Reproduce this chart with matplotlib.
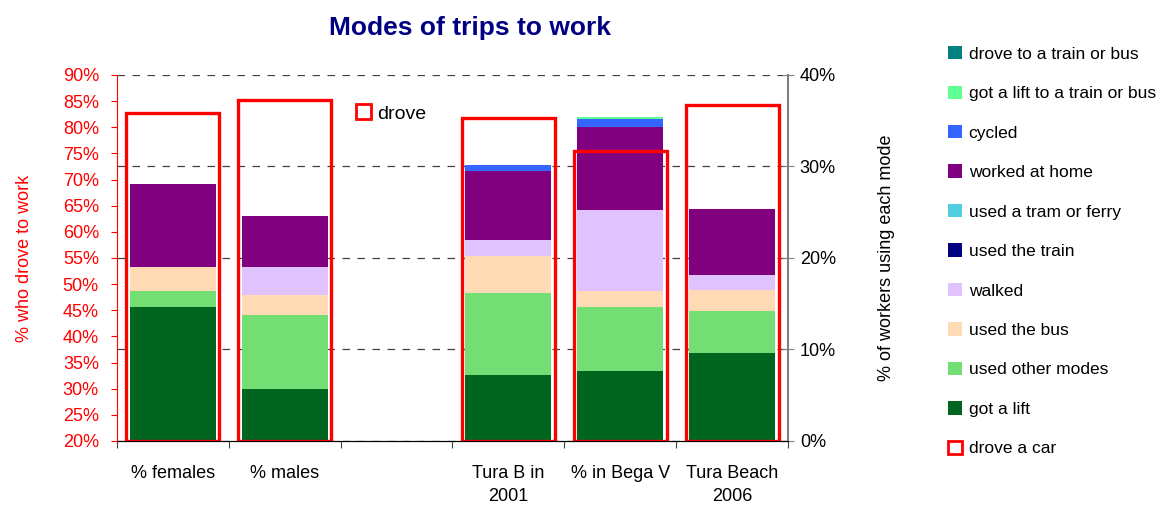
import numpy as np
import matplotlib
matplotlib.use("Agg")
import matplotlib.pyplot as plt
from matplotlib.patches import Patch

plt.rcParams["font.family"] = ["Liberation Sans", "DejaVu Sans"]

places = ["% females", "% males", "", "Tura B in\n2001", "% in Bega V", "Tura Beach\n2006"]

# share who drove a car (left axis); nothing for the gap column
drove = [82.8, 85.3, np.nan, 81.7, 75.5, 84.2]

# other modes, stacked bottom to top (right axis)
got_lift = [14.6, 5.7, 0, 7.2, 7.65, 9.6]
other_modes = [1.8, 8.1, 0, 9.0, 6.95, 4.6]
bus = [2.6, 2.2, 0, 4.05, 1.8, 2.3]
walked = [0, 3.0, 0, 1.75, 8.8, 1.6]
train = [0, 0, 0, 0, 0, 0]
tram_ferry = [0, 0, 0, 0, 0, 0]
home = [9.1, 5.6, 0, 7.5, 9.1, 7.3]
cycled = [0, 0, 0, 0.7, 0.9, 0]
lift_to_train = [0, 0, 0, 0, 0.2, 0]
drove_to_train = [0, 0, 0, 0, 0, 0]

modes = [
    ("got a lift", got_lift, "#00661f"),
    ("used other modes", other_modes, "#72de74"),
    ("used the bus", bus, "#ffdab4"),
    ("walked", walked, "#e0c2ff"),
    ("used the train", train, "#000080"),
    ("used a tram or ferry", tram_ferry, "#50cfe0"),
    ("worked at home", home, "#800080"),
    ("cycled", cycled, "#3366ff"),
    ("got a lift to a train or bus", lift_to_train, "#5fff94"),
    ("drove to a train or bus", drove_to_train, "#008080"),
]

fig = plt.figure(figsize=(11.58, 5.08), dpi=100)
ax = fig.add_axes([0.101, 0.1319, 0.5795, 0.7205])
ax2 = ax.twinx()
# boxes for "drove" go over the stacks
ax.set_zorder(ax2.get_zorder() + 1)
ax.patch.set_visible(False)

x = np.arange(len(places))

bottom = np.zeros(len(places))
for name, vals, col in modes:
    vals = np.array(vals)
    ax2.bar(x, vals, 0.77, bottom=bottom, color=col, linewidth=0)
    bottom += vals

ax2.set_ylim(0, 40)
ax2.set_yticks([0, 10, 20, 30, 40])
ax2.set_yticklabels([f"{v}%" for v in range(0, 41, 10)], fontsize=13)
ax2.tick_params(axis="y", direction="inout", length=9, color="#808080", pad=4)
ax2.yaxis.grid(True, linestyle=(0, (6, 6)), color="#404040", linewidth=0.9)
ax2.set_axisbelow(True)
ax2.set_ylabel("% of workers using each mode", fontsize=13, labelpad=30)

drove_arr = np.array(drove)
has_box = ~np.isnan(drove_arr)
ax.bar(x[has_box], drove_arr[has_box] - 20, 0.83, bottom=20, fill=False,
       edgecolor="#ff0000", linewidth=2.4)
ax.set_ylim(20, 90)
ax.set_xlim(-0.5, len(places) - 0.5)
ax.set_yticks(np.arange(20, 91, 5))
ax.set_yticklabels([f"{v}%" for v in range(20, 91, 5)], fontsize=13, color="#ff0000")
ax.tick_params(axis="y", colors="#ff0000", length=4, pad=9)
ax.set_ylabel("% who drove to work", color="#ff0000", fontsize=13, labelpad=21)

# category names between boundary ticks
ax.set_xticks(np.arange(len(places) + 1) - 0.5)
ax.set_xticklabels([])
ax.set_xticks(x, minor=True)
ax.set_xticklabels(places, minor=True, fontsize=13, linespacing=1.5)
ax.tick_params(axis="x", which="major", length=5, color="#404040")
ax.tick_params(axis="x", which="minor", length=0, pad=17)

for a in (ax, ax2):
    a.spines["top"].set_visible(False)
ax.spines["left"].set_color("#ff0000")
ax2.spines["left"].set_visible(False)
ax.spines["right"].set_visible(False)
ax2.spines["right"].set_color("#808080")
ax2.spines["right"].set_linewidth(1.5)
ax.spines["bottom"].set_color("black")

ax.legend([Patch(facecolor="white", edgecolor="#ff0000", linewidth=2)], ["drove"],
          loc="center left", bbox_to_anchor=(0.33, 0.895), frameon=False,
          fontsize=14, handlelength=0.8, handleheight=0.8, handletextpad=0.3)

fig.text(0.406, 0.945, "Modes of trips to work", ha="center", va="center",
         fontsize=19, fontweight="bold", color="#000080")

handles = [Patch(facecolor=col, edgecolor="none") for _, _, col in reversed(modes)]
labels = [name for name, _, _ in reversed(modes)]
handles.append(Patch(facecolor="white", edgecolor="#ff0000", linewidth=2))
labels.append("drove a car")
fig.legend(handles, labels, loc="upper left", bbox_to_anchor=(0.805, 0.94),
           frameon=False, fontsize=12.5, handlelength=0.8, handleheight=0.8,
           handletextpad=0.4, labelspacing=1.37)

fig.savefig("out.png", dpi=100)
